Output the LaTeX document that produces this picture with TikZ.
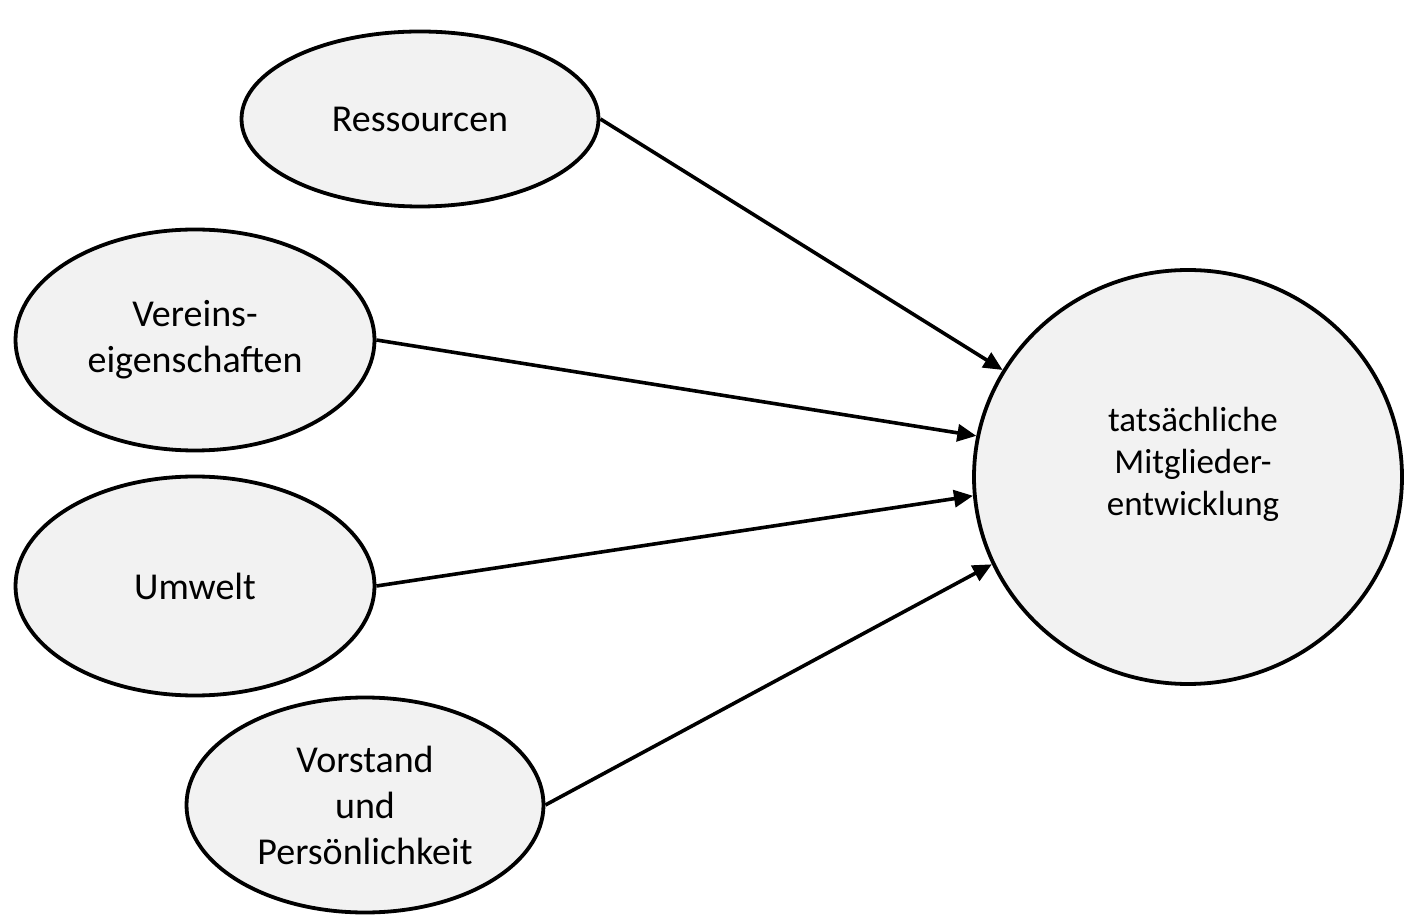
\documentclass[tikz,border=0pt]{standalone}
\usepackage{fontspec}
\setmainfont{Carlito}
\usetikzlibrary{shapes.geometric,arrows.meta}
\definecolor{fillgray}{HTML}{F2F2F2}
\tikzset{
  bubble/.style={ellipse, draw=black, line width=3.8pt, fill=fillgray, inner sep=0pt, align=center,
    font=\fontsize{38}{46}\selectfont},
  conn/.style={line width=3.6pt, -{Triangle[length=19pt,width=17pt]}}
}
\begin{document}
\begin{tikzpicture}[x=1pt,y=1pt]
\useasboundingbox (0,0) rectangle (1404,916);
\node[bubble, minimum width=357pt, minimum height=175pt] (r) at (420,797) {Ressourcen};
\node[bubble, minimum width=359pt, minimum height=221pt] (v) at (195,576) {Vereins-\\eigenschaften};
\node[bubble, minimum width=359pt, minimum height=219pt] (u) at (195,330) {Umwelt};
\node[bubble, minimum width=357pt, minimum height=215pt] (p) at (365,111) {Vorstand\\und\\Persönlichkeit};
\node[bubble, minimum width=428pt, minimum height=414pt] (m) at (1188,439) {};
\node[align=center, font=\fontsize{35}{42}\selectfont] (mt) at (1193,452) {tatsächliche\\Mitglieder-\\entwicklung};
\draw[conn] (r.east) -- (m.150.3);
\draw[conn] (v.east) -- (m.169.5);
\draw[conn] (u.east) -- (m.185);
\draw[conn] (p.east) -- (m.204);
\end{tikzpicture}
\end{document}
